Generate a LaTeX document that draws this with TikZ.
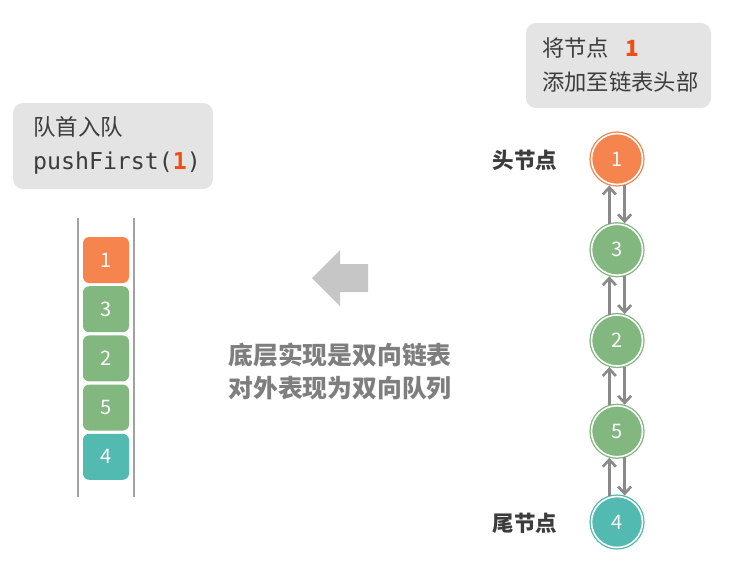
\documentclass[tikz,border=0pt]{standalone}
\usepackage{fontspec}
\setmainfont{Noto Sans CJK SC}
\setmonofont{DejaVu Sans Mono}
\usepackage{xcolor}
\usepackage{tikz}
\usetikzlibrary{arrows.meta,positioning}
\definecolor{DqOrange}{HTML}{F5844F}
\definecolor{DqGreen}{HTML}{82B77F}
\definecolor{DqTeal}{HTML}{52BAB1}
\definecolor{DqBoxGray}{HTML}{E4E4E4}
\definecolor{DqText}{HTML}{3C3C3C}
\definecolor{DqMidGray}{HTML}{7E7E7E}
\definecolor{DqArrowGray}{HTML}{8A8A8A}
\definecolor{DqBigArrow}{HTML}{C6C6C6}
\definecolor{DqCodeRed}{HTML}{F04F14}
\tikzset{
  dqbox/.style={fill=DqBoxGray,rounded corners=3.5mm,align=left,anchor=center,
    text=DqText,inner xsep=0pt,inner ysep=0pt},
  dqcell/.style={rounded corners=2.2mm,minimum size=46pt,inner sep=0pt,
    text=white,font=\fontsize{20}{20}\selectfont},
  dqnode/.style={circle,minimum size=51pt,inner sep=0pt,line width=1.3pt,
    double=white,double distance=1.6pt,text=white,font=\fontsize{20}{20}\selectfont},
  dqlink/.style={-{Straight Barb[length=7pt,width=13pt,line width=2.6pt]},
    line width=3pt,DqArrowGray,shorten <=1pt,shorten >=1.5pt},
  dqlabel/.style={font=\fontsize{21.5}{24}\selectfont\bfseries,text=DqText}
}
\newcommand{\dqone}{\textcolor{DqCodeRed}{\textbf{1}}}

\begin{document}
\begin{tikzpicture}[x=1pt,y=-1pt]
  \path[use as bounding box] (0,0) rectangle (736,566);

  % queue view
  \node[dqbox,minimum width=200pt,minimum height=86pt] (pushbox) at (113,146) {};
  \node[anchor=west,align=left,text=DqText,inner sep=0pt,
    font=\fontsize{22.5}{34}\selectfont] (pushtxt) at (33,145)
    {队首入队\\{\ttfamily\fontsize{23.2}{34}\selectfont pushFirst(\dqone)}};

  \draw[DqArrowGray!80,line width=1.3pt] (78,218) -- (78,497);
  \draw[DqArrowGray!80,line width=1.3pt] (134,218) -- (134,497);

  \foreach \v/\c [count=\i] in {1/DqOrange,3/DqGreen,2/DqGreen,5/DqGreen,4/DqTeal}
    \node[dqcell,fill=\c] (cell\i) at (106,{260+49.2*(\i-1)}) {\v};

  % middle
  \fill[DqBigArrow] (312,278) -- (340,250) -- (340,264) -- (368,264)
    -- (368,292) -- (340,292) -- (340,306) -- cycle;
  \node[align=center,text=DqMidGray,font=\fontsize{24.8}{33}\selectfont\bfseries]
    (note) at (340,371) {底层实现是双向链表\\对外表现为双向队列};

  % linked list view
  \node[dqbox,minimum width=185pt,minimum height=85pt] (headbox) at (618.5,65.5) {};
  \node[anchor=west,align=left,text=DqText,inner sep=0pt,
    font=\fontsize{22.3}{34}\selectfont] (headtxt) at (542,65)
    {将节点\hspace{0.75em}\textcolor{DqCodeRed}{\textbf{1}}\\添加至链表头部};

  \foreach \v/\c [count=\i] in {1/DqOrange,3/DqGreen,2/DqGreen,5/DqGreen,4/DqTeal}
    \node[dqnode,draw=\c,fill=\c] (n\i) at (617,{159+90.75*(\i-1)}) {\v};

  \foreach \i [evaluate=\i as \j using int(\i+1)] in {1,...,4} {
    \draw[dqlink] (n\j.107) -- (n\i.253);
    \draw[dqlink] (n\i.287) -- (n\j.73);
  }

  \node[dqlabel,anchor=east] (headlbl) at (561,160) {头节点};
  \node[dqlabel,anchor=east] (taillbl) at (561,523) {尾节点};
\end{tikzpicture}
\end{document}
